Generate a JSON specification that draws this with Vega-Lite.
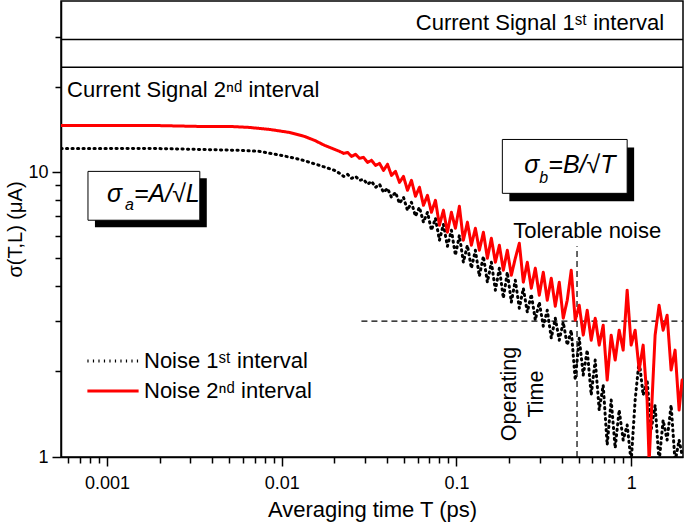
{
  "$schema": "https://vega.github.io/schema/vega-lite/v6.json",
  "width": 622,
  "height": 456,
  "autosize": {"type": "none"},
  "padding": {"left": 61, "top": 1, "right": 2, "bottom": 70},
  "config": {
    "font": "Liberation Sans",
    "view": {"stroke": "black", "strokeWidth": 1.5},
    "axis": {
      "domainColor": "black", "domainWidth": 1.5, "tickColor": "black", "tickWidth": 1.5,
      "labelColor": "black", "titleColor": "black", "labelFont": "Liberation Sans", "titleFont": "Liberation Sans",
      "labelFontSize": 18, "titleFontSize": 22, "titleFontWeight": "normal", "grid": false
    }
  },
  "datasets": {
    "noise": [
      {"series": "Noise 1ˢᵗ interval", "T": 0.000546, "sigma": 12.14},
      {"series": "Noise 1ˢᵗ interval", "T": 0.001, "sigma": 12.14},
      {"series": "Noise 1ˢᵗ interval", "T": 0.002, "sigma": 12.12},
      {"series": "Noise 1ˢᵗ interval", "T": 0.003399, "sigma": 12.04},
      {"series": "Noise 1ˢᵗ interval", "T": 0.005754, "sigma": 11.95},
      {"series": "Noise 1ˢᵗ interval", "T": 0.007484, "sigma": 11.85},
      {"series": "Noise 1ˢᵗ interval", "T": 0.01, "sigma": 11.47},
      {"series": "Noise 1ˢᵗ interval", "T": 0.0127, "sigma": 11.11},
      {"series": "Noise 1ˢᵗ interval", "T": 0.01649, "sigma": 10.58},
      {"series": "Noise 1ˢᵗ interval", "T": 0.02009, "sigma": 10.16},
      {"series": "Noise 1ˢᵗ interval", "T": 0.02145, "sigma": 9.92},
      {"series": "Noise 1ˢᵗ interval", "T": 0.02262, "sigma": 9.68},
      {"series": "Noise 1ˢᵗ interval", "T": 0.02384, "sigma": 9.84},
      {"series": "Noise 1ˢᵗ interval", "T": 0.02512, "sigma": 9.53},
      {"series": "Noise 1ˢᵗ interval", "T": 0.02648, "sigma": 9.68},
      {"series": "Noise 1ˢᵗ interval", "T": 0.02791, "sigma": 9.374},
      {"series": "Noise 1ˢᵗ interval", "T": 0.02941, "sigma": 9.45},
      {"series": "Noise 1ˢᵗ interval", "T": 0.031, "sigma": 9.08},
      {"series": "Noise 1ˢᵗ interval", "T": 0.03268, "sigma": 9.3},
      {"series": "Noise 1ˢᵗ interval", "T": 0.03444, "sigma": 8.86},
      {"series": "Noise 1ˢᵗ interval", "T": 0.03631, "sigma": 9.08},
      {"series": "Noise 1ˢᵗ interval", "T": 0.03827, "sigma": 8.51},
      {"series": "Noise 1ˢᵗ interval", "T": 0.04034, "sigma": 8.79},
      {"series": "Noise 1ˢᵗ interval", "T": 0.04251, "sigma": 8.17},
      {"series": "Noise 1ˢᵗ interval", "T": 0.04481, "sigma": 8.51},
      {"series": "Noise 1ˢᵗ interval", "T": 0.04723, "sigma": 7.78},
      {"series": "Noise 1ˢᵗ interval", "T": 0.04978, "sigma": 8.17},
      {"series": "Noise 1ˢᵗ interval", "T": 0.05248, "sigma": 7.357},
      {"series": "Noise 1ˢᵗ interval", "T": 0.05531, "sigma": 7.85},
      {"series": "Noise 1ˢᵗ interval", "T": 0.0583, "sigma": 7.01},
      {"series": "Noise 1ˢᵗ interval", "T": 0.06145, "sigma": 7.54},
      {"series": "Noise 1ˢᵗ interval", "T": 0.06477, "sigma": 6.68},
      {"series": "Noise 1ˢᵗ interval", "T": 0.06828, "sigma": 7.238},
      {"series": "Noise 1ˢᵗ interval", "T": 0.07196, "sigma": 6.259},
      {"series": "Noise 1ˢᵗ interval", "T": 0.07586, "sigma": 6.9},
      {"series": "Noise 1ˢᵗ interval", "T": 0.07995, "sigma": 5.773},
      {"series": "Noise 1ˢᵗ interval", "T": 0.08427, "sigma": 6.57},
      {"series": "Noise 1ˢᵗ interval", "T": 0.08883, "sigma": 5.5},
      {"series": "Noise 1ˢᵗ interval", "T": 0.09363, "sigma": 6.259},
      {"series": "Noise 1ˢᵗ interval", "T": 0.09869, "sigma": 5.114},
      {"series": "Noise 1ˢᵗ interval", "T": 0.104, "sigma": 6.011},
      {"series": "Noise 1ˢᵗ interval", "T": 0.1096, "sigma": 4.833},
      {"series": "Noise 1ˢᵗ interval", "T": 0.1156, "sigma": 5.545},
      {"series": "Noise 1ˢᵗ interval", "T": 0.1218, "sigma": 4.604},
      {"series": "Noise 1ˢᵗ interval", "T": 0.1284, "sigma": 5.325},
      {"series": "Noise 1ˢᵗ interval", "T": 0.1353, "sigma": 4.316},
      {"series": "Noise 1ˢᵗ interval", "T": 0.1427, "sigma": 5.074},
      {"series": "Noise 1ˢᵗ interval", "T": 0.1504, "sigma": 4.112},
      {"series": "Noise 1ˢᵗ interval", "T": 0.1585, "sigma": 4.833},
      {"series": "Noise 1ˢᵗ interval", "T": 0.1671, "sigma": 3.855},
      {"series": "Noise 1ˢᵗ interval", "T": 0.1761, "sigma": 4.604},
      {"series": "Noise 1ˢᵗ interval", "T": 0.1856, "sigma": 3.614},
      {"series": "Noise 1ˢᵗ interval", "T": 0.1956, "sigma": 4.459},
      {"series": "Noise 1ˢᵗ interval", "T": 0.2062, "sigma": 3.499},
      {"series": "Noise 1ˢᵗ interval", "T": 0.2173, "sigma": 4.179},
      {"series": "Noise 1ˢᵗ interval", "T": 0.2291, "sigma": 3.333},
      {"series": "Noise 1ˢᵗ interval", "T": 0.2415, "sigma": 3.917},
      {"series": "Noise 1ˢᵗ interval", "T": 0.2545, "sigma": 3.227},
      {"series": "Noise 1ˢᵗ interval", "T": 0.2683, "sigma": 3.731},
      {"series": "Noise 1ˢᵗ interval", "T": 0.2828, "sigma": 3.025},
      {"series": "Noise 1ˢᵗ interval", "T": 0.298, "sigma": 3.499},
      {"series": "Noise 1ˢᵗ interval", "T": 0.3141, "sigma": 2.882},
      {"series": "Noise 1ˢᵗ interval", "T": 0.3311, "sigma": 3.279},
      {"series": "Noise 1ˢᵗ interval", "T": 0.349, "sigma": 2.616},
      {"series": "Noise 1ˢᵗ interval", "T": 0.3679, "sigma": 3.074},
      {"series": "Noise 1ˢᵗ interval", "T": 0.3878, "sigma": 2.573},
      {"series": "Noise 1ˢᵗ interval", "T": 0.4087, "sigma": 2.977},
      {"series": "Noise 1ˢᵗ interval", "T": 0.4308, "sigma": 2.472},
      {"series": "Noise 1ˢᵗ interval", "T": 0.4541, "sigma": 2.79},
      {"series": "Noise 1ˢᵗ interval", "T": 0.4786, "sigma": 1.863},
      {"series": "Noise 1ˢᵗ interval", "T": 0.5045, "sigma": 2.616},
      {"series": "Noise 1ˢᵗ interval", "T": 0.5318, "sigma": 1.94},
      {"series": "Noise 1ˢᵗ interval", "T": 0.5605, "sigma": 2.374},
      {"series": "Noise 1ˢᵗ interval", "T": 0.5908, "sigma": 1.65},
      {"series": "Noise 1ˢᵗ interval", "T": 0.6227, "sigma": 2.19},
      {"series": "Noise 1ˢᵗ interval", "T": 0.6564, "sigma": 1.462},
      {"series": "Noise 1ˢᵗ interval", "T": 0.6918, "sigma": 1.789},
      {"series": "Noise 1ˢᵗ interval", "T": 0.7292, "sigma": 1.102},
      {"series": "Noise 1ˢᵗ interval", "T": 0.7686, "sigma": 1.585},
      {"series": "Noise 1ˢᵗ interval", "T": 0.8101, "sigma": 1.075},
      {"series": "Noise 1ˢᵗ interval", "T": 0.8539, "sigma": 1.462},
      {"series": "Noise 1ˢᵗ interval", "T": 0.9, "sigma": 1.147},
      {"series": "Noise 1ˢᵗ interval", "T": 0.9487, "sigma": 1.295},
      {"series": "Noise 1ˢᵗ interval", "T": 1.0, "sigma": 0.96},
      {"series": "Noise 1ˢᵗ interval", "T": 1.054, "sigma": 1.585},
      {"series": "Noise 1ˢᵗ interval", "T": 1.111, "sigma": 2.19},
      {"series": "Noise 1ˢᵗ interval", "T": 1.171, "sigma": 1.65},
      {"series": "Noise 1ˢᵗ interval", "T": 1.234, "sigma": 1.863},
      {"series": "Noise 1ˢᵗ interval", "T": 1.301, "sigma": 1.244},
      {"series": "Noise 1ˢᵗ interval", "T": 1.371, "sigma": 1.522},
      {"series": "Noise 1ˢᵗ interval", "T": 1.445, "sigma": 0.96},
      {"series": "Noise 1ˢᵗ interval", "T": 1.524, "sigma": 1.348},
      {"series": "Noise 1ˢᵗ interval", "T": 1.606, "sigma": 1.147},
      {"series": "Noise 1ˢᵗ interval", "T": 1.693, "sigma": 1.522},
      {"series": "Noise 1ˢᵗ interval", "T": 1.784, "sigma": 0.96},
      {"series": "Noise 1ˢᵗ interval", "T": 1.881, "sigma": 1.147},
      {"series": "Noise 1ˢᵗ interval", "T": 1.956, "sigma": 1.016},
      {"series": "Noise 2ⁿᵈ interval", "T": 0.000546, "sigma": 14.62},
      {"series": "Noise 2ⁿᵈ interval", "T": 0.000912, "sigma": 14.62},
      {"series": "Noise 2ⁿᵈ interval", "T": 0.00176, "sigma": 14.62},
      {"series": "Noise 2ⁿᵈ interval", "T": 0.003399, "sigma": 14.5},
      {"series": "Noise 2ⁿᵈ interval", "T": 0.005045, "sigma": 14.5},
      {"series": "Noise 2ⁿᵈ interval", "T": 0.006564, "sigma": 14.38},
      {"series": "Noise 2ⁿᵈ interval", "T": 0.00854, "sigma": 14.15},
      {"series": "Noise 2ⁿᵈ interval", "T": 0.01111, "sigma": 13.81},
      {"series": "Noise 2ⁿᵈ interval", "T": 0.01353, "sigma": 13.37},
      {"series": "Noise 2ⁿᵈ interval", "T": 0.01544, "sigma": 12.95},
      {"series": "Noise 2ⁿᵈ interval", "T": 0.01761, "sigma": 12.44},
      {"series": "Noise 2ⁿᵈ interval", "T": 0.02009, "sigma": 12.04},
      {"series": "Noise 2ⁿᵈ interval", "T": 0.02145, "sigma": 11.85},
      {"series": "Noise 2ⁿᵈ interval", "T": 0.02262, "sigma": 11.66},
      {"series": "Noise 2ⁿᵈ interval", "T": 0.02384, "sigma": 11.75},
      {"series": "Noise 2ⁿᵈ interval", "T": 0.02512, "sigma": 11.38},
      {"series": "Noise 2ⁿᵈ interval", "T": 0.02648, "sigma": 11.57},
      {"series": "Noise 2ⁿᵈ interval", "T": 0.02791, "sigma": 11.2},
      {"series": "Noise 2ⁿᵈ interval", "T": 0.02941, "sigma": 11.29},
      {"series": "Noise 2ⁿᵈ interval", "T": 0.031, "sigma": 10.84},
      {"series": "Noise 2ⁿᵈ interval", "T": 0.03268, "sigma": 11.02},
      {"series": "Noise 2ⁿᵈ interval", "T": 0.03444, "sigma": 10.58},
      {"series": "Noise 2ⁿᵈ interval", "T": 0.03631, "sigma": 10.75},
      {"series": "Noise 2ⁿᵈ interval", "T": 0.03827, "sigma": 10.16},
      {"series": "Noise 2ⁿᵈ interval", "T": 0.04034, "sigma": 10.67},
      {"series": "Noise 2ⁿᵈ interval", "T": 0.04251, "sigma": 9.76},
      {"series": "Noise 2ⁿᵈ interval", "T": 0.04481, "sigma": 10.08},
      {"series": "Noise 2ⁿᵈ interval", "T": 0.04723, "sigma": 9.22},
      {"series": "Noise 2ⁿᵈ interval", "T": 0.04978, "sigma": 9.68},
      {"series": "Noise 2ⁿᵈ interval", "T": 0.05248, "sigma": 8.647},
      {"series": "Noise 2ⁿᵈ interval", "T": 0.05531, "sigma": 9.374},
      {"series": "Noise 2ⁿᵈ interval", "T": 0.0583, "sigma": 8.238},
      {"series": "Noise 2ⁿᵈ interval", "T": 0.06145, "sigma": 8.859},
      {"series": "Noise 2ⁿᵈ interval", "T": 0.06477, "sigma": 7.66},
      {"series": "Noise 2ⁿᵈ interval", "T": 0.06828, "sigma": 8.305},
      {"series": "Noise 2ⁿᵈ interval", "T": 0.07196, "sigma": 7.238},
      {"series": "Noise 2ⁿᵈ interval", "T": 0.07586, "sigma": 7.976},
      {"series": "Noise 2ⁿᵈ interval", "T": 0.07995, "sigma": 6.517},
      {"series": "Noise 2ⁿᵈ interval", "T": 0.08427, "sigma": 7.357},
      {"series": "Noise 2ⁿᵈ interval", "T": 0.08883, "sigma": 6.16},
      {"series": "Noise 2ⁿᵈ interval", "T": 0.09363, "sigma": 7.238},
      {"series": "Noise 2ⁿᵈ interval", "T": 0.09869, "sigma": 6.362},
      {"series": "Noise 2ⁿᵈ interval", "T": 0.104, "sigma": 7.598},
      {"series": "Noise 2ⁿᵈ interval", "T": 0.1096, "sigma": 5.773},
      {"series": "Noise 2ⁿᵈ interval", "T": 0.1156, "sigma": 6.677},
      {"series": "Noise 2ⁿᵈ interval", "T": 0.1218, "sigma": 5.545},
      {"series": "Noise 2ⁿᵈ interval", "T": 0.1284, "sigma": 6.362},
      {"series": "Noise 2ⁿᵈ interval", "T": 0.1353, "sigma": 5.325},
      {"series": "Noise 2ⁿᵈ interval", "T": 0.1427, "sigma": 6.16},
      {"series": "Noise 2ⁿᵈ interval", "T": 0.1504, "sigma": 4.991},
      {"series": "Noise 2ⁿᵈ interval", "T": 0.1585, "sigma": 5.867},
      {"series": "Noise 2ⁿᵈ interval", "T": 0.1671, "sigma": 4.833},
      {"series": "Noise 2ⁿᵈ interval", "T": 0.1761, "sigma": 5.545},
      {"series": "Noise 2ⁿᵈ interval", "T": 0.1856, "sigma": 4.53},
      {"series": "Noise 2ⁿᵈ interval", "T": 0.1956, "sigma": 5.325},
      {"series": "Noise 2ⁿᵈ interval", "T": 0.2062, "sigma": 4.351},
      {"series": "Noise 2ⁿᵈ interval", "T": 0.2173, "sigma": 4.991},
      {"series": "Noise 2ⁿᵈ interval", "T": 0.2291, "sigma": 5.634},
      {"series": "Noise 2ⁿᵈ interval", "T": 0.2415, "sigma": 4.112},
      {"series": "Noise 2ⁿᵈ interval", "T": 0.2545, "sigma": 4.833},
      {"series": "Noise 2ⁿᵈ interval", "T": 0.2683, "sigma": 3.917},
      {"series": "Noise 2ⁿᵈ interval", "T": 0.2828, "sigma": 4.604},
      {"series": "Noise 2ⁿᵈ interval", "T": 0.298, "sigma": 3.702},
      {"series": "Noise 2ⁿᵈ interval", "T": 0.3141, "sigma": 4.459},
      {"series": "Noise 2ⁿᵈ interval", "T": 0.3311, "sigma": 3.555},
      {"series": "Noise 2ⁿᵈ interval", "T": 0.349, "sigma": 4.247},
      {"series": "Noise 2ⁿᵈ interval", "T": 0.3679, "sigma": 3.387},
      {"series": "Noise 2ⁿᵈ interval", "T": 0.3878, "sigma": 4.112},
      {"series": "Noise 2ⁿᵈ interval", "T": 0.4087, "sigma": 3.074},
      {"series": "Noise 2ⁿᵈ interval", "T": 0.4308, "sigma": 3.555},
      {"series": "Noise 2ⁿᵈ interval", "T": 0.4541, "sigma": 4.53},
      {"series": "Noise 2ⁿᵈ interval", "T": 0.4786, "sigma": 3.025},
      {"series": "Noise 2ⁿᵈ interval", "T": 0.5045, "sigma": 3.414},
      {"series": "Noise 2ⁿᵈ interval", "T": 0.5318, "sigma": 2.68},
      {"series": "Noise 2ⁿᵈ interval", "T": 0.5605, "sigma": 3.279},
      {"series": "Noise 2ⁿᵈ interval", "T": 0.5908, "sigma": 2.573},
      {"series": "Noise 2ⁿᵈ interval", "T": 0.6227, "sigma": 3.074},
      {"series": "Noise 2ⁿᵈ interval", "T": 0.6564, "sigma": 2.472},
      {"series": "Noise 2ⁿᵈ interval", "T": 0.6918, "sigma": 2.905},
      {"series": "Noise 2ⁿᵈ interval", "T": 0.7292, "sigma": 1.863},
      {"series": "Noise 2ⁿᵈ interval", "T": 0.7686, "sigma": 2.68},
      {"series": "Noise 2ⁿᵈ interval", "T": 0.8101, "sigma": 2.19},
      {"series": "Noise 2ⁿᵈ interval", "T": 0.8539, "sigma": 2.79},
      {"series": "Noise 2ⁿᵈ interval", "T": 0.9, "sigma": 2.374},
      {"series": "Noise 2ⁿᵈ interval", "T": 0.9487, "sigma": 3.855},
      {"series": "Noise 2ⁿᵈ interval", "T": 1.0, "sigma": 2.472},
      {"series": "Noise 2ⁿᵈ interval", "T": 1.054, "sigma": 2.79},
      {"series": "Noise 2ⁿᵈ interval", "T": 1.111, "sigma": 2.02},
      {"series": "Noise 2ⁿᵈ interval", "T": 1.171, "sigma": 2.472},
      {"series": "Noise 2ⁿᵈ interval", "T": 1.234, "sigma": 1.585},
      {"series": "Noise 2ⁿᵈ interval", "T": 1.267, "sigma": 0.96},
      {"series": "Noise 2ⁿᵈ interval", "T": 1.371, "sigma": 2.68},
      {"series": "Noise 2ⁿᵈ interval", "T": 1.445, "sigma": 3.414},
      {"series": "Noise 2ⁿᵈ interval", "T": 1.524, "sigma": 2.79},
      {"series": "Noise 2ⁿᵈ interval", "T": 1.606, "sigma": 3.149},
      {"series": "Noise 2ⁿᵈ interval", "T": 1.693, "sigma": 2.02},
      {"series": "Noise 2ⁿᵈ interval", "T": 1.784, "sigma": 2.374},
      {"series": "Noise 2ⁿᵈ interval", "T": 1.881, "sigma": 1.462},
      {"series": "Noise 2ⁿᵈ interval", "T": 1.956, "sigma": 1.863}
    ]
  },
  "layer": [
    {
      "data": {"values": [
        {"x1": 0.000854, "x2": 0.003728, "y1": 6.41, "y2": 9.53},
        {"x1": 0.2009, "x2": 1.04, "y1": 7.91, "y2": 12.24}
      ]},
      "mark": {"type": "rect", "fill": "black"},
      "encoding": {
        "x": {"field": "x1", "type": "quantitative", "scale": {"type": "log", "domain": [0.000546, 1.98], "nice": false},
          "title": "Averaging time  T (ps)",
          "axis": {
            "values": [0.0006, 0.0007, 0.0008, 0.0009, 0.001, 0.002, 0.003, 0.004, 0.005, 0.006, 0.007, 0.008, 0.009, 0.01, 0.02, 0.03, 0.04, 0.05, 0.06, 0.07, 0.08, 0.09, 0.1, 0.2, 0.3, 0.4, 0.5, 0.6, 0.7, 0.8, 0.9, 1],
            "format": "~g",
            "labelExpr": "abs(log(datum.value)/LN10 - round(log(datum.value)/LN10)) < 0.01 ? datum.label : ''",
            "tickSize": {"condition": {"test": "abs(log(datum.value)/LN10 - round(log(datum.value)/LN10)) < 0.01", "value": 9}, "value": 6},
            "labelPadding": 8, "labelFlush": false, "labelOverlap": false, "titlePadding": 7
          }},
        "x2": {"field": "x2"},
        "y": {"field": "y1", "type": "quantitative", "scale": {"type": "log", "domain": [1, 40], "nice": false},
          "title": "σ(T,L) (μA)",
          "axis": {
            "values": [1, 2, 3, 4, 5, 6, 7, 8, 9, 10, 20, 30],
            "format": "~g",
            "labelExpr": "abs(log(datum.value)/LN10 - round(log(datum.value)/LN10)) < 0.01 ? datum.label : ''",
            "tickSize": {"condition": {"test": "abs(log(datum.value)/LN10 - round(log(datum.value)/LN10)) < 0.01", "value": 9}, "value": 6},
            "labelPadding": 4, "labelOverlap": false, "labelFlush": false, "titlePadding": 2, "titleFontSize": 20
          }},
        "y2": {"field": "y2"}
      }
    },
    {
      "data": {"values": [
        {"x1": 0.000779, "x2": 0.0034, "y1": 6.79, "y2": 10.08},
        {"x1": 0.1832, "x2": 0.9487, "y1": 8.44, "y2": 13.05}
      ]},
      "mark": {"type": "rect", "fill": "white", "stroke": "black", "strokeWidth": 1},
      "encoding": {
        "x": {"field": "x1", "type": "quantitative"},
        "x2": {"field": "x2"},
        "y": {"field": "y1", "type": "quantitative"},
        "y2": {"field": "y2"}
      }
    },
    {
      "data": {"values": [{"y1": 29.3}, {"y1": 23.4}]},
      "mark": {"type": "rule", "color": "black", "strokeWidth": 1.5},
      "encoding": {"y": {"field": "y1", "type": "quantitative"}}
    },
    {
      "data": {"values": [{"x1": 0.0286, "x2": 1.98, "y1": 3}]},
      "mark": {"type": "rule", "color": "black", "strokeWidth": 1.2, "strokeDash": [6, 4]},
      "encoding": {
        "x": {"field": "x1", "type": "quantitative"},
        "x2": {"field": "x2"},
        "y": {"field": "y1", "type": "quantitative"}
      }
    },
    {
      "data": {"values": [{"x1": 0.49, "y1": 1, "y2": 5.5}]},
      "mark": {"type": "rule", "color": "black", "strokeWidth": 1.2, "strokeDash": [6, 4]},
      "encoding": {
        "x": {"field": "x1", "type": "quantitative"},
        "y": {"field": "y1", "type": "quantitative"},
        "y2": {"field": "y2"}
      }
    },
    {
      "data": {"name": "noise"},
      "mark": {"type": "line", "strokeWidth": 3, "strokeCap": "round", "strokeJoin": "round", "clip": true},
      "encoding": {
        "x": {"field": "T", "type": "quantitative"},
        "y": {"field": "sigma", "type": "quantitative"},
        "color": {"field": "series", "type": "nominal",
          "scale": {"domain": ["Noise 1ˢᵗ interval", "Noise 2ⁿᵈ interval"], "range": ["black", "#ff0000"]},
          "legend": {"title": null, "orient": "none", "legendX": 40, "legendY": 348, "labelFontSize": 22, "labelFont": "Liberation Sans", "labelColor": "black", "labelLimit": 400, "symbolType": "M-2.5,0H2.5", "symbolSize": 420, "symbolStrokeWidth": 3, "symbolFillColor": "transparent", "rowPadding": 7, "labelOffset": 19}},
        "strokeDash": {"field": "series", "type": "nominal",
          "scale": {"domain": ["Noise 1ˢᵗ interval", "Noise 2ⁿᵈ interval"], "range": [[1.2, 4.3], [1, 0]]},
          "legend": {"title": null, "orient": "none", "legendX": 40, "legendY": 348, "labelFontSize": 22, "labelFont": "Liberation Sans", "labelColor": "black", "labelLimit": 400, "symbolType": "M-2.5,0H2.5", "symbolSize": 420, "symbolStrokeWidth": 3, "symbolFillColor": "transparent", "rowPadding": 7, "labelOffset": 19}}
      }
    },
    {
      "data": {"values": [{"x1": 1.544, "y1": 33.6, "t": "Current Signal 1ˢᵗ interval"}]},
      "mark": {"type": "text", "align": "right", "baseline": "middle", "fontSize": 22, "color": "black"},
      "encoding": {"x": {"field": "x1", "type": "quantitative"}, "y": {"field": "y1", "type": "quantitative"}, "text": {"field": "t"}}
    },
    {
      "data": {"values": [{"x1": 0.000591, "y1": 19.4, "t": "Current Signal 2ⁿᵈ interval"}]},
      "mark": {"type": "text", "align": "left", "baseline": "middle", "fontSize": 22, "color": "black"},
      "encoding": {"x": {"field": "x1", "type": "quantitative"}, "y": {"field": "y1", "type": "quantitative"}, "text": {"field": "t"}}
    },
    {
      "data": {"values": [{"x1": 0.5605, "y1": 6.21, "t": "Tolerable noise"}]},
      "mark": {"type": "text", "align": "center", "baseline": "middle", "fontSize": 22, "color": "black"},
      "encoding": {"x": {"field": "x1", "type": "quantitative"}, "y": {"field": "y1", "type": "quantitative"}, "text": {"field": "t"}}
    },
    {
      "data": {"values": [{"x1": 0.2035, "y1": 1.664, "t": "Operating"}, {"x1": 0.2903, "y1": 1.664, "t": "Time"}]},
      "mark": {"type": "text", "align": "center", "baseline": "middle", "fontSize": 21.5, "angle": 270, "color": "black"},
      "encoding": {"x": {"field": "x1", "type": "quantitative"}, "y": {"field": "y1", "type": "quantitative"}, "text": {"field": "t"}}
    },
    {
      "data": {"values": [{"x1": 0.001, "y1": 7.85, "t": "σ"}, {"x1": 0.001427, "y1": 7.85, "t": "=A/√L"}, {"x1": 0.2446, "y1": 9.92, "t": "σ"}, {"x1": 0.3355, "y1": 9.92, "t": "=B/√T"}]},
      "mark": {"type": "text", "align": "left", "baseline": "alphabetic", "fontSize": 25, "fontStyle": "italic", "color": "black"},
      "encoding": {"x": {"field": "x1", "type": "quantitative"}, "y": {"field": "y1", "type": "quantitative"}, "text": {"field": "t"}}
    },
    {
      "data": {"values": [{"x1": 0.001267, "y1": 7.36, "t": "a"}, {"x1": 0.298, "y1": 9.15, "t": "b"}]},
      "mark": {"type": "text", "align": "left", "baseline": "alphabetic", "fontSize": 16, "fontStyle": "italic", "color": "black"},
      "encoding": {"x": {"field": "x1", "type": "quantitative"}, "y": {"field": "y1", "type": "quantitative"}, "text": {"field": "t"}}
    }
  ]
}
